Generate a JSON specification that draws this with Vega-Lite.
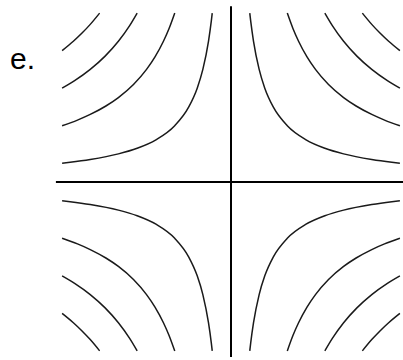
{
  "$schema": "https://vega.github.io/schema/vega-lite/v6.json",
  "width": 403,
  "height": 360,
  "autosize": {"type": "none"},
  "padding": 0,
  "background": "white",
  "config": {"view": {"stroke": null}},
  "datasets": {
    "curves": [
      {"c": "ur1", "x": 0.3333, "y": 3}, {"c": "ur1", "x": 0.35, "y": 2.857}, {"c": "ur1", "x": 0.4, "y": 2.5}, {"c": "ur1", "x": 0.5, "y": 2}, {"c": "ur1", "x": 0.6, "y": 1.6667}, {"c": "ur1", "x": 0.75, "y": 1.3333}, {"c": "ur1", "x": 1, "y": 1}, {"c": "ur1", "x": 1.3333, "y": 0.75}, {"c": "ur1", "x": 1.6667, "y": 0.6}, {"c": "ur1", "x": 2, "y": 0.5}, {"c": "ur1", "x": 2.5, "y": 0.4}, {"c": "ur1", "x": 2.857, "y": 0.35}, {"c": "ur1", "x": 3, "y": 0.3333},
      {"c": "ur3", "x": 1, "y": 3}, {"c": "ur3", "x": 1.1, "y": 2.7273}, {"c": "ur3", "x": 1.2, "y": 2.5}, {"c": "ur3", "x": 1.35, "y": 2.2222}, {"c": "ur3", "x": 1.5, "y": 2}, {"c": "ur3", "x": 1.732, "y": 1.732}, {"c": "ur3", "x": 2, "y": 1.5}, {"c": "ur3", "x": 2.2222, "y": 1.35}, {"c": "ur3", "x": 2.5, "y": 1.2}, {"c": "ur3", "x": 2.7273, "y": 1.1}, {"c": "ur3", "x": 3, "y": 1},
      {"c": "ur5", "x": 1.6667, "y": 3}, {"c": "ur5", "x": 1.8, "y": 2.7778}, {"c": "ur5", "x": 2, "y": 2.5}, {"c": "ur5", "x": 2.2361, "y": 2.2361}, {"c": "ur5", "x": 2.5, "y": 2}, {"c": "ur5", "x": 2.7778, "y": 1.8}, {"c": "ur5", "x": 3, "y": 1.6667},
      {"c": "ur7", "x": 2.3333, "y": 3}, {"c": "ur7", "x": 2.5, "y": 2.8}, {"c": "ur7", "x": 2.6458, "y": 2.6458}, {"c": "ur7", "x": 2.8, "y": 2.5}, {"c": "ur7", "x": 3, "y": 2.3333},

      {"c": "ul1", "x": -0.3333, "y": 3}, {"c": "ul1", "x": -0.35, "y": 2.857}, {"c": "ul1", "x": -0.4, "y": 2.5}, {"c": "ul1", "x": -0.5, "y": 2}, {"c": "ul1", "x": -0.6, "y": 1.6667}, {"c": "ul1", "x": -0.75, "y": 1.3333}, {"c": "ul1", "x": -1, "y": 1}, {"c": "ul1", "x": -1.3333, "y": 0.75}, {"c": "ul1", "x": -1.6667, "y": 0.6}, {"c": "ul1", "x": -2, "y": 0.5}, {"c": "ul1", "x": -2.5, "y": 0.4}, {"c": "ul1", "x": -2.857, "y": 0.35}, {"c": "ul1", "x": -3, "y": 0.3333},
      {"c": "ul3", "x": -1, "y": 3}, {"c": "ul3", "x": -1.1, "y": 2.7273}, {"c": "ul3", "x": -1.2, "y": 2.5}, {"c": "ul3", "x": -1.35, "y": 2.2222}, {"c": "ul3", "x": -1.5, "y": 2}, {"c": "ul3", "x": -1.732, "y": 1.732}, {"c": "ul3", "x": -2, "y": 1.5}, {"c": "ul3", "x": -2.2222, "y": 1.35}, {"c": "ul3", "x": -2.5, "y": 1.2}, {"c": "ul3", "x": -2.7273, "y": 1.1}, {"c": "ul3", "x": -3, "y": 1},
      {"c": "ul5", "x": -1.6667, "y": 3}, {"c": "ul5", "x": -1.8, "y": 2.7778}, {"c": "ul5", "x": -2, "y": 2.5}, {"c": "ul5", "x": -2.2361, "y": 2.2361}, {"c": "ul5", "x": -2.5, "y": 2}, {"c": "ul5", "x": -2.7778, "y": 1.8}, {"c": "ul5", "x": -3, "y": 1.6667},
      {"c": "ul7", "x": -2.3333, "y": 3}, {"c": "ul7", "x": -2.5, "y": 2.8}, {"c": "ul7", "x": -2.6458, "y": 2.6458}, {"c": "ul7", "x": -2.8, "y": 2.5}, {"c": "ul7", "x": -3, "y": 2.3333},

      {"c": "ll1", "x": -0.3333, "y": -3}, {"c": "ll1", "x": -0.35, "y": -2.857}, {"c": "ll1", "x": -0.4, "y": -2.5}, {"c": "ll1", "x": -0.5, "y": -2}, {"c": "ll1", "x": -0.6, "y": -1.6667}, {"c": "ll1", "x": -0.75, "y": -1.3333}, {"c": "ll1", "x": -1, "y": -1}, {"c": "ll1", "x": -1.3333, "y": -0.75}, {"c": "ll1", "x": -1.6667, "y": -0.6}, {"c": "ll1", "x": -2, "y": -0.5}, {"c": "ll1", "x": -2.5, "y": -0.4}, {"c": "ll1", "x": -2.857, "y": -0.35}, {"c": "ll1", "x": -3, "y": -0.3333},
      {"c": "ll3", "x": -1, "y": -3}, {"c": "ll3", "x": -1.1, "y": -2.7273}, {"c": "ll3", "x": -1.2, "y": -2.5}, {"c": "ll3", "x": -1.35, "y": -2.2222}, {"c": "ll3", "x": -1.5, "y": -2}, {"c": "ll3", "x": -1.732, "y": -1.732}, {"c": "ll3", "x": -2, "y": -1.5}, {"c": "ll3", "x": -2.2222, "y": -1.35}, {"c": "ll3", "x": -2.5, "y": -1.2}, {"c": "ll3", "x": -2.7273, "y": -1.1}, {"c": "ll3", "x": -3, "y": -1},
      {"c": "ll5", "x": -1.6667, "y": -3}, {"c": "ll5", "x": -1.8, "y": -2.7778}, {"c": "ll5", "x": -2, "y": -2.5}, {"c": "ll5", "x": -2.2361, "y": -2.2361}, {"c": "ll5", "x": -2.5, "y": -2}, {"c": "ll5", "x": -2.7778, "y": -1.8}, {"c": "ll5", "x": -3, "y": -1.6667},
      {"c": "ll7", "x": -2.3333, "y": -3}, {"c": "ll7", "x": -2.5, "y": -2.8}, {"c": "ll7", "x": -2.6458, "y": -2.6458}, {"c": "ll7", "x": -2.8, "y": -2.5}, {"c": "ll7", "x": -3, "y": -2.3333},

      {"c": "lr1", "x": 0.3333, "y": -3}, {"c": "lr1", "x": 0.35, "y": -2.857}, {"c": "lr1", "x": 0.4, "y": -2.5}, {"c": "lr1", "x": 0.5, "y": -2}, {"c": "lr1", "x": 0.6, "y": -1.6667}, {"c": "lr1", "x": 0.75, "y": -1.3333}, {"c": "lr1", "x": 1, "y": -1}, {"c": "lr1", "x": 1.3333, "y": -0.75}, {"c": "lr1", "x": 1.6667, "y": -0.6}, {"c": "lr1", "x": 2, "y": -0.5}, {"c": "lr1", "x": 2.5, "y": -0.4}, {"c": "lr1", "x": 2.857, "y": -0.35}, {"c": "lr1", "x": 3, "y": -0.3333},
      {"c": "lr3", "x": 1, "y": -3}, {"c": "lr3", "x": 1.1, "y": -2.7273}, {"c": "lr3", "x": 1.2, "y": -2.5}, {"c": "lr3", "x": 1.35, "y": -2.2222}, {"c": "lr3", "x": 1.5, "y": -2}, {"c": "lr3", "x": 1.732, "y": -1.732}, {"c": "lr3", "x": 2, "y": -1.5}, {"c": "lr3", "x": 2.2222, "y": -1.35}, {"c": "lr3", "x": 2.5, "y": -1.2}, {"c": "lr3", "x": 2.7273, "y": -1.1}, {"c": "lr3", "x": 3, "y": -1},
      {"c": "lr5", "x": 1.6667, "y": -3}, {"c": "lr5", "x": 1.8, "y": -2.7778}, {"c": "lr5", "x": 2, "y": -2.5}, {"c": "lr5", "x": 2.2361, "y": -2.2361}, {"c": "lr5", "x": 2.5, "y": -2}, {"c": "lr5", "x": 2.7778, "y": -1.8}, {"c": "lr5", "x": 3, "y": -1.6667},
      {"c": "lr7", "x": 2.3333, "y": -3}, {"c": "lr7", "x": 2.5, "y": -2.8}, {"c": "lr7", "x": 2.6458, "y": -2.6458}, {"c": "lr7", "x": 2.8, "y": -2.5}, {"c": "lr7", "x": 3, "y": -2.3333}
    ]
  },
  "resolve": {"scale": {"x": "shared", "y": "shared"}},
  "layer": [
    {
      "data": {"name": "curves"},
      "mark": {"type": "line", "interpolate": "monotone", "color": "#1a1a1a", "strokeWidth": 1.5, "clip": false},
      "encoding": {
        "x": {"field": "x", "type": "quantitative", "scale": {"domain": [-4.103, 3.055], "nice": false, "zero": false}, "axis": null},
        "y": {"field": "y", "type": "quantitative", "scale": {"domain": [-3.162, 3.233], "nice": false, "zero": false}, "axis": null},
        "detail": {"field": "c", "type": "nominal"}
      }
    },
    {
      "data": {"values": [{"x": -3.11, "x2": 3.2, "y": 0}]},
      "mark": {"type": "rule", "color": "#000000", "strokeWidth": 2, "clip": false},
      "encoding": {
        "x": {"field": "x", "type": "quantitative"},
        "x2": {"field": "x2"},
        "y": {"field": "y", "type": "quantitative"}
      }
    },
    {
      "data": {"values": [{"x": 0, "y": -3.11, "y2": 3.12}]},
      "mark": {"type": "rule", "color": "#000000", "strokeWidth": 2, "clip": false},
      "encoding": {
        "x": {"field": "x", "type": "quantitative"},
        "y": {"field": "y", "type": "quantitative"},
        "y2": {"field": "y2"}
      }
    },
    {
      "data": {"values": [{"x": -3.925, "y": 2.0, "label": "e."}]},
      "mark": {"type": "text", "font": "Liberation Sans", "fontSize": 30, "color": "#000000", "align": "left", "baseline": "alphabetic", "clip": false},
      "encoding": {
        "x": {"field": "x", "type": "quantitative"},
        "y": {"field": "y", "type": "quantitative"},
        "text": {"field": "label"}
      }
    }
  ]
}
